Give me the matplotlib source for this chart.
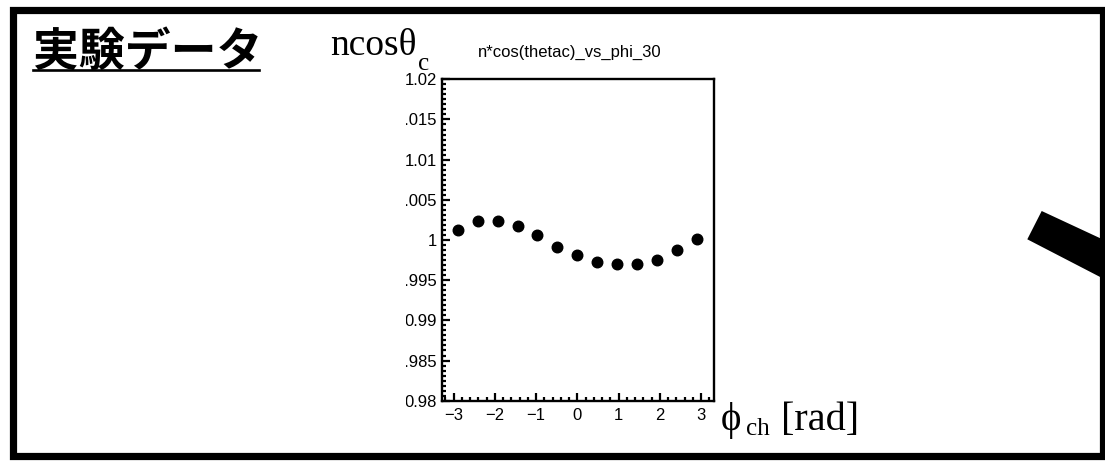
import numpy as np
import matplotlib
matplotlib.use("Agg")
import matplotlib.pyplot as plt
from matplotlib.patches import Rectangle, Polygon
from matplotlib.lines import Line2D
from matplotlib.ticker import MultipleLocator, FixedLocator

# ---------------------------------------------------------------
# data (13 bins over [-pi, pi])
# ---------------------------------------------------------------
n_bins = 13
phi_ch = -np.pi + (np.arange(n_bins) + 0.5) * 2 * np.pi / n_bins
ncos_thetac = [1.00124, 1.00236, 1.00240, 1.00174, 1.00066, 0.99917, 0.99813,
               0.99726, 0.99705, 0.99698, 0.99751, 0.99879, 1.00012]

y_ticks = [0.98, 0.985, 0.99, 0.995, 1.0, 1.005, 1.01, 1.015, 1.02]
y_tick_labels = ["0.98", "0.985", "0.99", "0.995", "1", "1.005", "1.01", "1.015", "1.02"]
x_ticks = [-3, -2, -1, 0, 1, 2, 3]

slide_title = "実験データ"
hist_title = "n*cos(thetac)_vs_phi_30"

W, H = 1105, 462
SERIF = ["Liberation Serif", "DejaVu Serif"]
SANS = ["Liberation Sans", "DejaVu Sans"]


def px(x, y):
    """pixel position (top-left origin) -> figure fraction"""
    return x / W, 1 - y / H


fig = plt.figure(figsize=(W / 100, H / 100), dpi=100)
fig.patch.set_facecolor("white")

# ---------------------------------------------------------------
# the ROOT-style pad
# ---------------------------------------------------------------
l, b = px(442, 400.7)
r, t = px(714, 79.3)
ax = fig.add_axes([l, b, r - l, t - b])
ax.plot(phi_ch, ncos_thetac, "o", color="black", markersize=7.6, zorder=3)
ax.set_xlim(-3.28, 3.31)
ax.set_ylim(0.98, 1.02)

ax.yaxis.set_major_locator(FixedLocator(y_ticks))
ax.set_yticklabels(y_tick_labels)
ax.yaxis.set_minor_locator(MultipleLocator(0.000625))
ax.xaxis.set_major_locator(FixedLocator(x_ticks))
ax.xaxis.set_minor_locator(MultipleLocator(0.2))

for s in ax.spines.values():
    s.set_linewidth(1.7)
ax.tick_params(which="both", direction="in", top=False, right=False, width=1.6)
ax.tick_params(which="major", length=6)
ax.tick_params(which="minor", length=3.2)
ax.tick_params(axis="y", pad=3.5, labelsize=12)
ax.tick_params(axis="x", pad=5, labelsize=12)
for lbl in ax.get_xticklabels() + ax.get_yticklabels():
    lbl.set_family(SANS)

# ROOT clips the long y labels at the pad edge
fig.add_artist(Rectangle(px(300, 412), 106 / W, 340 / H, transform=fig.transFigure,
                         facecolor="white", edgecolor="none", zorder=5))

fig.text(*px(570, 52), hist_title, family=SANS, fontsize=12, ha="center", va="center")

# axis titles
fig.text(*px(330, 55), "ncosθ", family=SERIF, fontsize=27, ha="left", va="baseline")
fig.text(*px(418, 70), "c", family=SERIF, fontsize=18, ha="left", va="baseline")
fig.text(*px(721, 430), "ϕ", family=SERIF, fontsize=28, ha="left", va="baseline")
fig.text(*px(746, 435), "ch", family=SERIF, fontsize=18, ha="left", va="baseline")
fig.text(*px(781, 430), "[rad]", family=SERIF, fontsize=29, ha="left", va="baseline")

# slide heading
fig.text(*px(33, 66), slide_title, family=["Noto Sans CJK JP", "DejaVu Sans"],
         fontweight="bold", fontsize=33, ha="left", va="baseline")
x0, y0 = px(33, 69.5)
x1, _ = px(259, 69.5)
fig.add_artist(Line2D([x0, x1], [y0, y0], transform=fig.transFigure,
                      color="black", linewidth=1.9))

# arrow shaft cut by the slide border
fig.add_artist(Polygon([px(1041.7, 211), px(1027.3, 239.3), px(1104, 279), px(1104, 240)],
                       closed=True, transform=fig.transFigure,
                       facecolor="black", edgecolor="none", zorder=6))

# slide border
fx, fy = px(13, 455.5)
fig.add_artist(Rectangle((fx, fy), (1103 - 13) / W, (455.5 - 9.7) / H,
                         transform=fig.transFigure, fill=False,
                         edgecolor="black", linewidth=5.2, zorder=7))

fig.savefig("out.png", dpi=100, facecolor="white")
